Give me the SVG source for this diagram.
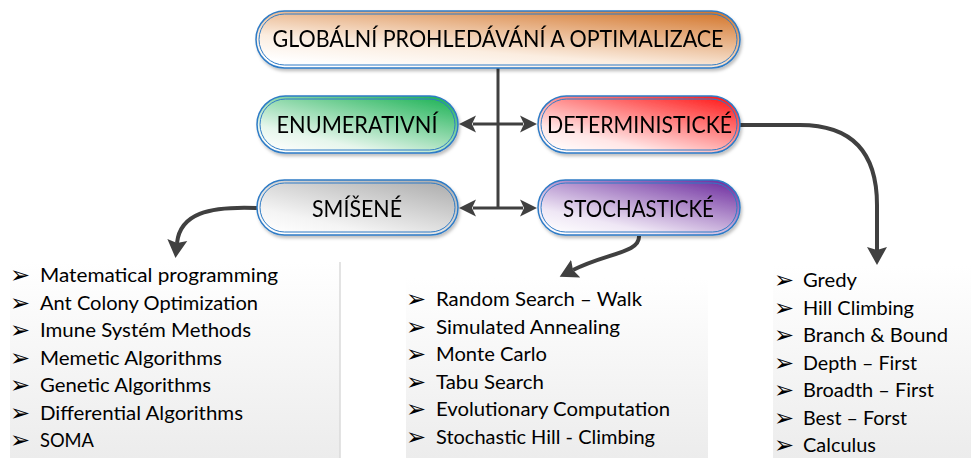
<svg xmlns="http://www.w3.org/2000/svg" width="971" height="458" viewBox="0 0 971 458">
<style>
.box{stroke:#2E7BC6;stroke-width:1.5}
.inner{fill:none;stroke:#2E7BC6;stroke-width:1}
.bt{font-family:Lato,"Open Sans",sans-serif;font-size:22.5px;fill:#000;text-anchor:middle}
.lt{font-family:Lato,"Open Sans",sans-serif;font-size:18.5px;fill:#000}
.bul{font-family:"DejaVu Sans",sans-serif;font-size:24px;fill:#000}
.con{fill:none;stroke:#404040;stroke-width:3}
.cur{fill:none;stroke:#404040;stroke-width:4}
</style>
<defs>
<filter id="sh" x="-10%" y="-20%" width="120%" height="150%">
<feDropShadow dx="1.5" dy="2.5" stdDeviation="1.5" flood-color="#000" flood-opacity="0.25"/>
</filter>
<linearGradient id="gO" x1="0.25" y1="1" x2="0.9" y2="0"><stop offset="0" stop-color="#fff"/><stop offset="0.3" stop-color="#fbede0"/><stop offset="1" stop-color="#D4782F"/></linearGradient>
<linearGradient id="gG" x1="0.1" y1="1" x2="0.9" y2="0"><stop offset="0" stop-color="#fff"/><stop offset="0.25" stop-color="#e6f6ec"/><stop offset="1" stop-color="#1FB357"/></linearGradient>
<linearGradient id="gR" x1="0.1" y1="1" x2="0.9" y2="0"><stop offset="0" stop-color="#fff"/><stop offset="0.25" stop-color="#ffe6e6"/><stop offset="1" stop-color="#FF1A1A"/></linearGradient>
<linearGradient id="gS" x1="0.1" y1="1" x2="0.9" y2="0"><stop offset="0" stop-color="#fff"/><stop offset="0.25" stop-color="#f4f4f4"/><stop offset="1" stop-color="#ADADAD"/></linearGradient>
<linearGradient id="gP" x1="0.1" y1="1" x2="0.9" y2="0"><stop offset="0" stop-color="#fff"/><stop offset="0.25" stop-color="#efe7f5"/><stop offset="1" stop-color="#7030A0"/></linearGradient>
<linearGradient id="gL" x1="0" y1="0" x2="0" y2="1"><stop offset="0" stop-color="#fff"/><stop offset="1" stop-color="#ececec"/></linearGradient>
<marker id="ah" viewBox="0 -10 18 20" refX="3" refY="0" markerWidth="18" markerHeight="20" markerUnits="userSpaceOnUse" orient="auto-start-reverse">
<path d="M0,-8.5 L17,0 L0,8.5 L4,0 z" fill="#404040"/>
</marker>
<marker id="ahb" viewBox="0 -11 20 22" refX="3" refY="0" markerWidth="20" markerHeight="22" markerUnits="userSpaceOnUse" orient="auto">
<path d="M0,-10 L18,0 L0,10 L3,0 z" fill="#404040"/>
</marker>
</defs>

<g id="panels">
<rect x="10" y="262" width="330" height="196" fill="url(#gL)"/>
<line x1="340" y1="262" x2="340" y2="458" stroke="#dadada" stroke-width="1.5"/>
<rect x="406" y="278" width="302" height="180" fill="url(#gL)"/>
<rect x="773" y="266" width="198" height="192" fill="url(#gL)"/>
</g>

<g id="connectors">
<line class="con" x1="498" y1="68" x2="498" y2="208"/>
<line class="con" x1="473" y1="124" x2="523" y2="124" marker-start="url(#ah)" marker-end="url(#ah)"/>
<line class="con" x1="473" y1="208" x2="523" y2="208" marker-start="url(#ah)" marker-end="url(#ah)"/>
<path class="cur" d="M257,208 C208,206 180,214 177,243" marker-end="url(#ahb)"/>
<path class="cur" d="M740,125 L800,125 C852,125 877,152 877,205 L877,250" marker-end="url(#ahb)"/>
<path class="cur" d="M639,236 C640,253 606,253 573,270" marker-end="url(#ahb)"/>
</g>

<g id="node-global" filter="url(#sh)">
<rect class="box" x="256" y="11" width="484" height="57" rx="28.5" fill="url(#gO)"/>
<rect class="inner" x="259" y="14" width="478" height="51" rx="25.5"/>
<text class="bt" x="498" y="47" textLength="451" lengthAdjust="spacingAndGlyphs">GLOBÁLNÍ PROHLEDÁVÁNÍ A OPTIMALIZACE</text>
</g>
<g id="node-enum" filter="url(#sh)">
<rect class="box" x="257" y="96" width="201" height="57" rx="28.5" fill="url(#gG)"/>
<rect class="inner" x="260" y="99" width="195" height="51" rx="25.5"/>
<text class="bt" x="357" y="133" textLength="161" lengthAdjust="spacingAndGlyphs">ENUMERATIVNÍ</text>
</g>
<g id="node-det" filter="url(#sh)">
<rect class="box" x="538" y="96" width="202" height="57" rx="28.5" fill="url(#gR)"/>
<rect class="inner" x="541" y="99" width="196" height="51" rx="25.5"/>
<text class="bt" x="639.5" y="133" textLength="185" lengthAdjust="spacingAndGlyphs">DETERMINISTICKÉ</text>
</g>
<g id="node-smis" filter="url(#sh)">
<rect class="box" x="257" y="180" width="201" height="55" rx="27.5" fill="url(#gS)"/>
<rect class="inner" x="260" y="183" width="195" height="49" rx="24.5"/>
<text class="bt" x="357" y="217" textLength="90" lengthAdjust="spacingAndGlyphs">SMÍŠENÉ</text>
</g>
<g id="node-stoch" filter="url(#sh)">
<rect class="box" x="538" y="180" width="202" height="55" rx="27.5" fill="url(#gP)"/>
<rect class="inner" x="541" y="183" width="196" height="49" rx="24.5"/>
<text class="bt" x="638.5" y="217" textLength="151" lengthAdjust="spacingAndGlyphs">STOCHASTICKÉ</text>
</g>

<g id="list-smisene">
<text class="bul" x="10" y="283">➢</text><text class="lt" x="40" y="282" textLength="238" lengthAdjust="spacingAndGlyphs">Matematical programming</text>
<text class="bul" x="10" y="310.5">➢</text><text class="lt" x="40" y="309.5" textLength="218" lengthAdjust="spacingAndGlyphs">Ant Colony Optimization</text>
<text class="bul" x="10" y="338">➢</text><text class="lt" x="40" y="337" textLength="211" lengthAdjust="spacingAndGlyphs">Imune Systém Methods</text>
<text class="bul" x="10" y="365.5">➢</text><text class="lt" x="40" y="364.5" textLength="182" lengthAdjust="spacingAndGlyphs">Memetic Algorithms</text>
<text class="bul" x="10" y="393">➢</text><text class="lt" x="40" y="392" textLength="171" lengthAdjust="spacingAndGlyphs">Genetic Algorithms</text>
<text class="bul" x="10" y="420.5">➢</text><text class="lt" x="40" y="419.5" textLength="203" lengthAdjust="spacingAndGlyphs">Differential Algorithms</text>
<text class="bul" x="10" y="448">➢</text><text class="lt" x="40" y="447" textLength="54" lengthAdjust="spacingAndGlyphs">SOMA</text>
</g>

<g id="list-stochasticke">
<text class="bul" x="406" y="307">➢</text><text class="lt" x="436" y="306" textLength="206" lengthAdjust="spacingAndGlyphs">Random Search – Walk</text>
<text class="bul" x="406" y="334.5">➢</text><text class="lt" x="436" y="333.5" textLength="184" lengthAdjust="spacingAndGlyphs">Simulated Annealing</text>
<text class="bul" x="406" y="362">➢</text><text class="lt" x="436" y="361" textLength="111" lengthAdjust="spacingAndGlyphs">Monte Carlo</text>
<text class="bul" x="406" y="389.5">➢</text><text class="lt" x="436" y="388.5" textLength="108" lengthAdjust="spacingAndGlyphs">Tabu Search</text>
<text class="bul" x="406" y="417">➢</text><text class="lt" x="436" y="416" textLength="234" lengthAdjust="spacingAndGlyphs">Evolutionary Computation</text>
<text class="bul" x="406" y="444.5">➢</text><text class="lt" x="436" y="443.5" textLength="219" lengthAdjust="spacingAndGlyphs">Stochastic Hill - Climbing</text>
</g>

<g id="list-deterministicke">
<text class="bul" x="774" y="288">➢</text><text class="lt" x="803" y="287" textLength="54" lengthAdjust="spacingAndGlyphs">Gredy</text>
<text class="bul" x="774" y="315.5">➢</text><text class="lt" x="803" y="314.5" textLength="111" lengthAdjust="spacingAndGlyphs">Hill Climbing</text>
<text class="bul" x="774" y="343">➢</text><text class="lt" x="803" y="342" textLength="145" lengthAdjust="spacingAndGlyphs">Branch &amp; Bound</text>
<text class="bul" x="774" y="370.5">➢</text><text class="lt" x="803" y="369.5" textLength="114" lengthAdjust="spacingAndGlyphs">Depth – First</text>
<text class="bul" x="774" y="398">➢</text><text class="lt" x="803" y="397" textLength="131" lengthAdjust="spacingAndGlyphs">Broadth – First</text>
<text class="bul" x="774" y="425.5">➢</text><text class="lt" x="803" y="424.5" textLength="104" lengthAdjust="spacingAndGlyphs">Best – Forst</text>
<text class="bul" x="774" y="453">➢</text><text class="lt" x="803" y="452" textLength="73" lengthAdjust="spacingAndGlyphs">Calculus</text>
</g>
</svg>
